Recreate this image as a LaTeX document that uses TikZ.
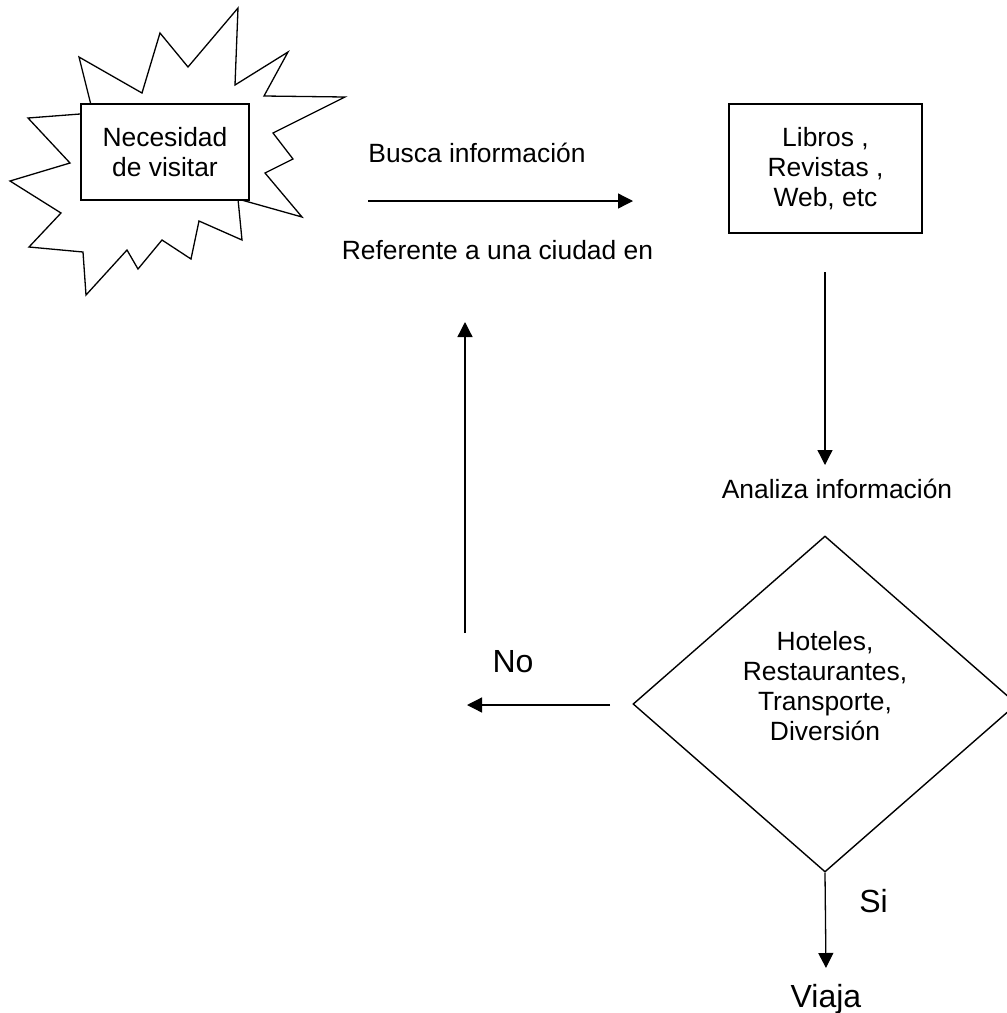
\documentclass[tikz,border=0pt]{standalone}
\usepackage{fontspec}
\setmainfont{Liberation Sans}
\usepackage{tikz}
\usetikzlibrary{shapes}
\usetikzlibrary{arrows}
\usetikzlibrary{arrows.meta}
\usetikzlibrary{positioning}
\newcommand{\txtsize}{\fontsize{13.2}{15}\selectfont}
\newcommand{\bigsize}{\fontsize{16}{19}\selectfont}
\tikzstyle{arrow}=[-{Triangle[length=7.5pt,width=7.5pt]}, line width=0.65pt]
\tikzstyle{boxnode}=[rectangle, draw, fill=white, line width=0.85pt, align=center, font=\txtsize]
\tikzstyle{txt}=[font=\txtsize, anchor=base, inner sep=0pt]
\tikzstyle{bigtxt}=[font=\bigsize, anchor=base, inner sep=0pt]
\tikzset{every picture/.style={
    line width=0.65pt
  }
}

\begin{document}
\begin{tikzpicture}[x=0.5pt, y=-0.5pt]
        \useasboundingbox (0,0) rectangle (1007,1013);
        % starburst
        \draw[fill=white] (238,8) -- (235,85) -- (288,52) -- (264,96) -- (345,97) -- (273,133)
          -- (293,159) -- (265,173) -- (302,217) -- (238,199) -- (242,240) -- (199,221)
          -- (191,259) -- (162,240) -- (138,269) -- (127,250) -- (86,295) -- (83,252)
          -- (29,247) -- (61,213) -- (10,181) -- (70,163) -- (28,118) -- (93,113)
          -- (79,57) -- (142,93) -- (160,33) -- (188,67) -- cycle;
        \node[boxnode, minimum width=84pt, minimum height=48pt] at (165,152) (need) {Necesidad\\de visitar};
        \node[boxnode, minimum width=96.5pt, minimum height=64.5pt] at (825.5,168.5) (libros) {Libros ,\\Revistas ,\\Web, etc};
        \node[diamond, draw, inner sep=0pt, minimum width=192pt, minimum height=168pt, line width=0.7pt] at (825,704) (decide) {};
        \node[txt, anchor=center, align=center] at (825,686) (opciones) {Hoteles,\\Restaurantes,\\Transporte,\\Diversión};

        \node[txt] at (477,162) (busca) {Busca información};
        \node[txt] at (497.5,259) (referente) {Referente a una ciudad en};
        \node[txt] at (837,498) (analiza) {Analiza información};
        \node[bigtxt] at (513,672) (no) {No};
        \node[bigtxt] at (873.5,912) (si) {Si};
        \node[bigtxt] at (826,1007) (viaja) {Viaja};

        \coordinate (buscaA) at (368,201);
        \coordinate (buscaB) at (633,201);
        \coordinate (analA) at (825,272);
        \coordinate (analB) at (825,465);
        \coordinate (noA) at (610,705);
        \coordinate (noB) at (467,705);
        \coordinate (backA) at (465,633);
        \coordinate (backB) at (465,322);
        \coordinate (siB) at (826,968);

        \draw[arrow] (buscaA) -- (buscaB);
        \draw[arrow] (analA) -- (analB);
        \draw[arrow] (noA) -- (noB);
        \draw[arrow] (backA) -- (backB);
        \draw[arrow] (decide.south) -- (siB);
      \end{tikzpicture}
\end{document}
